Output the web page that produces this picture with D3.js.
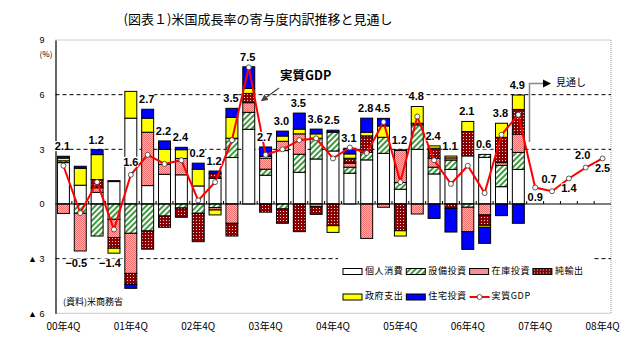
<!DOCTYPE html>
<html>
<head>
<meta charset="utf-8">
<script src="https://cdn.jsdelivr.net/npm/d3@7"></script>
<style>
  body { margin: 0; background: #fff; }
  svg text { font-family: "Noto Sans CJK JP", "Liberation Sans", sans-serif; }
</style>
</head>
<body>
<div id="chart"></div>
<script>
// 米国成長率の寄与度内訳 (00年4Q～07年3Q 実績, 07年4Q～08年4Q 見通し)

const gdp = [2.1, -0.5, 1.2, -1.4, 1.6, 2.7, 2.2, 2.4, 0.2, 1.2, 3.5, 7.5, 2.7, 3.0, 3.5, 3.6,
             2.5, 3.1, 2.8, 4.5, 1.2, 4.8, 2.4, 1.1, 2.1, 0.6, 3.8, 4.9,
             0.9, 0.7, 1.4, 2.0, 2.5];

const consumption = [2.27, 1.03, 0.64, 1.23, 4.71, 1.01, 1.63, 1.6, 0.99, 1.41, 2.55, 4.1, 1.58, 2.93,
                     1.74, 2.47, 2.91, 1.69, 2.42, 2.78, 0.81, 3.0, 1.65, 1.9, 2.64, 2.56, 0.95, 1.9];
const equipment   = [0.1, -0.51, -1.76, -0.84, -1.61, -1.48, -0.66, -0.22, -0.51, -0.2, 1.06, 0.93, 0.33, -0.27,
                     0.99, 1.14, 1.03, 0.33, 0.42, 0.88, 0.37, 1.34, 0.37, 0.51, -0.18, 0.16, 1.17, 0.93];
const inventory   = [-0.52, -2.07, 0.25, -1.0, -2.2, 2.93, 0.55, 0.9, 0, -0.13, -1.06, 0.53, 0.6, 0.51,
                     1.12, -0.15, 0, 0.22, -1.89, -0.18, 1.76, -0.55, 0.49, 0.12, -1.34, -0.6, 0.15, 1.0];
const netExports  = [0, 0, 0.45, -0.59, -0.6, -1.0, -0.62, -0.51, -1.56, 0.27, -0.7, 0.51, -0.45, -0.79,
                     -1.52, -0.42, -1.19, 0.27, 0.9, 0, -1.47, 0.09, 0.55, -0.24, 1.34, -0.57, 1.39, 1.36];
const government  = [0.15, 0.93, 1.37, -0.27, 1.47, 0.77, 0.82, 0.48, 0.92, -0.27, 1.15, 0.27, 0.1, 0.29,
                     0.26, 0.24, -0.37, 0.24, 0.2, 0.62, -0.29, 0.92, 0.13, 0.1, 0.55, -0.11, 0.77, 0.79];
const housing     = [0.1, 0.11, 0.27, 0.05, -0.22, 0.49, 0.46, 0.13, 0.33, 0.13, 0.49, 1.19, 0.52, 0.27,
                     0.88, 0.26, 0.11, 0.31, 0.77, 0.42, 0.03, 0, -0.79, -1.3, -0.97, -0.88, -0.64, -1.06];

const yearLabels = ["00年4Q", "01年4Q", "02年4Q", "03年4Q", "04年4Q", "05年4Q", "06年4Q", "07年4Q", "08年4Q"];
const yTicks = [-6, -3, 0, 3, 6, 9];

const series = [
  { key: "cons",  name: "個人消費", values: consumption, fill: "#ffffff" },
  { key: "equip", name: "設備投資", values: equipment,   fill: "url(#hatch)" },
  { key: "inv",   name: "在庫投資", values: inventory,   fill: "url(#check)" },
  { key: "net",   name: "純輸出",   values: netExports,  fill: "url(#dots)" },
  { key: "gov",   name: "政府支出", values: government,  fill: "#ffff00" },
  { key: "house", name: "住宅投資", values: housing,     fill: "#0000ff" }
];

const width = 632, height = 337;
const nActual = consumption.length;

const svg = d3.select("#chart").append("svg")
  .attr("width", width)
  .attr("height", height);

// patterns
const defs = svg.append("defs");
const hatch = defs.append("pattern").attr("id", "hatch")
  .attr("patternUnits", "userSpaceOnUse").attr("width", 4).attr("height", 4)
  .attr("patternTransform", "rotate(45)");
hatch.append("rect").attr("width", 4).attr("height", 4).attr("fill", "#fff");
hatch.append("rect").attr("width", 2).attr("height", 4).attr("fill", "#3f9a3f");

const check = defs.append("pattern").attr("id", "check")
  .attr("patternUnits", "userSpaceOnUse").attr("width", 2).attr("height", 2);
check.append("rect").attr("width", 2).attr("height", 2).attr("fill", "#ffb0b0");
check.append("rect").attr("width", 1).attr("height", 1).attr("fill", "#f07070");
check.append("rect").attr("x", 1).attr("y", 1).attr("width", 1).attr("height", 1).attr("fill", "#f07070");

const dots = defs.append("pattern").attr("id", "dots")
  .attr("patternUnits", "userSpaceOnUse").attr("width", 3).attr("height", 3);
dots.append("rect").attr("width", 3).attr("height", 3).attr("fill", "#8b0000");
dots.append("rect").attr("x", 1).attr("y", 1).attr("width", 1).attr("height", 1).attr("fill", "#ffd0d0");

// scales
const x = d3.scaleBand()
  .domain(d3.range(gdp.length))
  .range([55, 611])
  .paddingInner(0.29)
  .paddingOuter(0.145);
const step = x.step();
const cx = i => x(i) + x.bandwidth() / 2;

const y = d3.scaleLinear().domain([-6, 9]).range([313.3, 40]);

// title
svg.append("text")
  .attr("x", 258).attr("y", 20)
  .attr("text-anchor", "middle").attr("dominant-baseline", "middle")
  .style("font-size", "13px")
  .text("(図表１)米国成長率の寄与度内訳推移と見通し");

// frame and grid
svg.append("g").selectAll("line")
  .data([9, -6])
  .join("line")
  .attr("x1", 55.5).attr("x2", 611)
  .attr("y1", d => y(d)).attr("y2", d => y(d))
  .attr("stroke", "#999").attr("stroke-dasharray", "1,1");
svg.append("line")
  .attr("x1", 611).attr("x2", 611).attr("y1", y(9)).attr("y2", y(-6))
  .attr("stroke", "#999").attr("stroke-dasharray", "1,1");

svg.append("g").selectAll("line")
  .data([6, 3, -3])
  .join("line")
  .attr("x1", 55.5).attr("x2", 611)
  .attr("y1", d => y(d)).attr("y2", d => y(d))
  .attr("stroke", "#000").attr("stroke-dasharray", "4,3");

// y axis
const yAxis = svg.append("g")
  .attr("transform", "translate(55.5,0)")
  .call(d3.axisLeft(y).tickValues(yTicks).tickSize(0).tickPadding(11)
    .tickFormat(d => d < 0 ? "▲ " + (-d) : d));
yAxis.select(".domain").attr("stroke", "#000").attr("stroke-width", 1.2);
yAxis.selectAll("text")
  .style("font-family", "Liberation Sans, sans-serif")
  .style("font-size", "9px").attr("fill", "#000");

svg.append("text")
  .attr("x", 46).attr("y", 55)
  .attr("text-anchor", "middle").attr("dominant-baseline", "middle")
  .style("font-size", "8px")
  .text("(%)");

// legend background (cuts the -3 line)
svg.append("rect")
  .attr("x", 338).attr("y", 254).attr("width", 254).attr("height", 52)
  .attr("fill", "#fff");

// stacked bars
const rows = d3.range(nActual).map(i => {
  const r = { i: i };
  series.forEach(s => r[s.key] = s.values[i]);
  return r;
});
const stacked = d3.stack()
  .keys(series.map(s => s.key))
  .offset(d3.stackOffsetDiverging)(rows);

svg.append("g")
  .selectAll("g")
  .data(stacked)
  .join("g")
  .attr("fill", (d, k) => series[k].fill)
  .selectAll("rect")
  .data(d => d.filter(p => p[1] !== p[0]))
  .join("rect")
  .attr("x", d => x(d.data.i))
  .attr("width", x.bandwidth())
  .attr("y", d => y(Math.max(d[0], d[1])))
  .attr("height", d => Math.abs(y(d[0]) - y(d[1])))
  .attr("stroke", "#000")
  .attr("stroke-width", 1);

// zero line with quarter ticks
svg.append("line")
  .attr("x1", 55.5).attr("x2", 611).attr("y1", y(0)).attr("y2", y(0))
  .attr("stroke", "#000").attr("stroke-width", 1.2);
svg.append("g").selectAll("line")
  .data(d3.range(1, gdp.length))
  .join("line")
  .attr("x1", i => x(i) - step * 0.145).attr("x2", i => x(i) - step * 0.145)
  .attr("y1", y(0)).attr("y2", y(0) - 3)
  .attr("stroke", "#000");

// GDP line
const line = d3.line().x((d, i) => cx(i)).y(d => y(d));
svg.append("path")
  .datum(gdp)
  .attr("d", line)
  .attr("fill", "none")
  .attr("stroke", "#ff0000")
  .attr("stroke-width", 2);
svg.append("g").selectAll("circle")
  .data(gdp)
  .join("circle")
  .attr("cx", (d, i) => cx(i))
  .attr("cy", d => y(d))
  .attr("r", 2.5)
  .attr("fill", "#fff")
  .attr("stroke", "#333")
  .attr("stroke-width", 0.8);

// value labels
function labelPos(d, i) {
  if (i >= nActual) {
    const k = i - nActual;
    return [cx(i) - (k % 2 ? 3 : 0), y(d) + (k % 2 ? -12 : 10)];
  }
  if (d < 0) return [cx(i) - 4, y(-3) + 5];
  if (i === 4) return [cx(i), y(d) - 13];
  const top = d3.sum(series, s => Math.max(0, s.values[i]));
  return [cx(i) - 1, y(top) - 10];
}
const labels = svg.append("g").selectAll("g")
  .data(gdp)
  .join("g")
  .attr("transform", (d, i) => "translate(" + labelPos(d, i) + ")");
labels.append("text")
  .attr("text-anchor", "middle").attr("dy", "0.35em")
  .style("font-family", "Liberation Sans, sans-serif")
  .style("font-size", "11px").style("font-weight", "bold")
  .text(d => (d < 0 ? "−" : "") + Math.abs(d).toFixed(1));
labels.each(function () {
  const g = d3.select(this);
  const b = g.select("text").node().getBBox();
  g.insert("rect", "text")
    .attr("x", b.x).attr("y", b.y + 1)
    .attr("width", b.width).attr("height", b.height - 2)
    .attr("fill", "#fff");
});

// 実質GDP annotation
svg.append("defs").append("marker")
  .attr("id", "arrow").attr("viewBox", "0 0 10 10")
  .attr("refX", 8).attr("refY", 5)
  .attr("markerWidth", 6).attr("markerHeight", 6)
  .attr("orient", "auto")
  .append("path").attr("d", "M0,0L10,5L0,10z").attr("fill", "#444");
svg.append("line")
  .attr("x1", 279).attr("y1", 88).attr("x2", 262).attr("y2", 100.5)
  .attr("stroke", "#444").attr("stroke-width", 1.2)
  .attr("marker-end", "url(#arrow)");
svg.append("text")
  .attr("x", 280).attr("y", 77).attr("dominant-baseline", "middle")
  .style("font-size", "12.5px").style("font-weight", "bold")
  .text("実質GDP");

// 見通し annotation
svg.append("path")
  .attr("d", "M529.5,142V83.5H544")
  .attr("fill", "none").attr("stroke", "#888").attr("stroke-width", 1.5);
svg.append("path")
  .attr("d", "M543,79.5L551,83.5L543,87.5z")
  .attr("fill", "#000");
svg.append("text")
  .attr("x", 556).attr("y", 83).attr("dominant-baseline", "middle")
  .style("font-size", "10px")
  .text("見通し");

// legend
const legendItems = [
  { name: "個人消費", fill: "#ffffff", col: 0, row: 0 },
  { name: "設備投資", fill: "url(#hatch)", col: 1, row: 0 },
  { name: "在庫投資", fill: "url(#check)", col: 2, row: 0 },
  { name: "純輸出", fill: "url(#dots)", col: 3, row: 0 },
  { name: "政府支出", fill: "#ffff00", col: 0, row: 1 },
  { name: "住宅投資", fill: "#0000ff", col: 1, row: 1 },
  { name: "実質GDP", fill: null, col: 2, row: 1 }
];
const legend = svg.append("g").selectAll("g")
  .data(legendItems)
  .join("g")
  .attr("transform", d => "translate(" + (343 + d.col * 63.3) + "," + (271.5 + d.row * 25.5) + ")");
legend.filter(d => d.fill)
  .append("rect")
  .attr("x", 0).attr("y", -3).attr("width", 19).attr("height", 6)
  .attr("fill", d => d.fill).attr("stroke", "#000");
const gdpKey = legend.filter(d => !d.fill);
gdpKey.append("line")
  .attr("x1", 0).attr("x2", 20).attr("y1", 0).attr("y2", 0)
  .attr("stroke", "#ff0000").attr("stroke-width", 2);
gdpKey.append("circle")
  .attr("cx", 10).attr("cy", 0).attr("r", 2.5)
  .attr("fill", "#fff").attr("stroke", "#333").attr("stroke-width", 0.8);
legend.append("text")
  .attr("x", 22).attr("dominant-baseline", "middle")
  .style("font-size", "9px").style("letter-spacing", "0.6px")
  .text(d => d.name);

// source note
svg.append("text")
  .attr("x", 63).attr("y", 303).attr("dominant-baseline", "middle")
  .style("font-size", "9px")
  .text("(資料)米商務省");

// x axis labels
svg.append("g").selectAll("text")
  .data(yearLabels)
  .join("text")
  .attr("x", (d, k) => cx(k * 4))
  .attr("y", 327)
  .attr("text-anchor", "middle").attr("dominant-baseline", "middle")
  .style("font-size", "10px")
  .text(d => d);
</script>
</body>
</html>
